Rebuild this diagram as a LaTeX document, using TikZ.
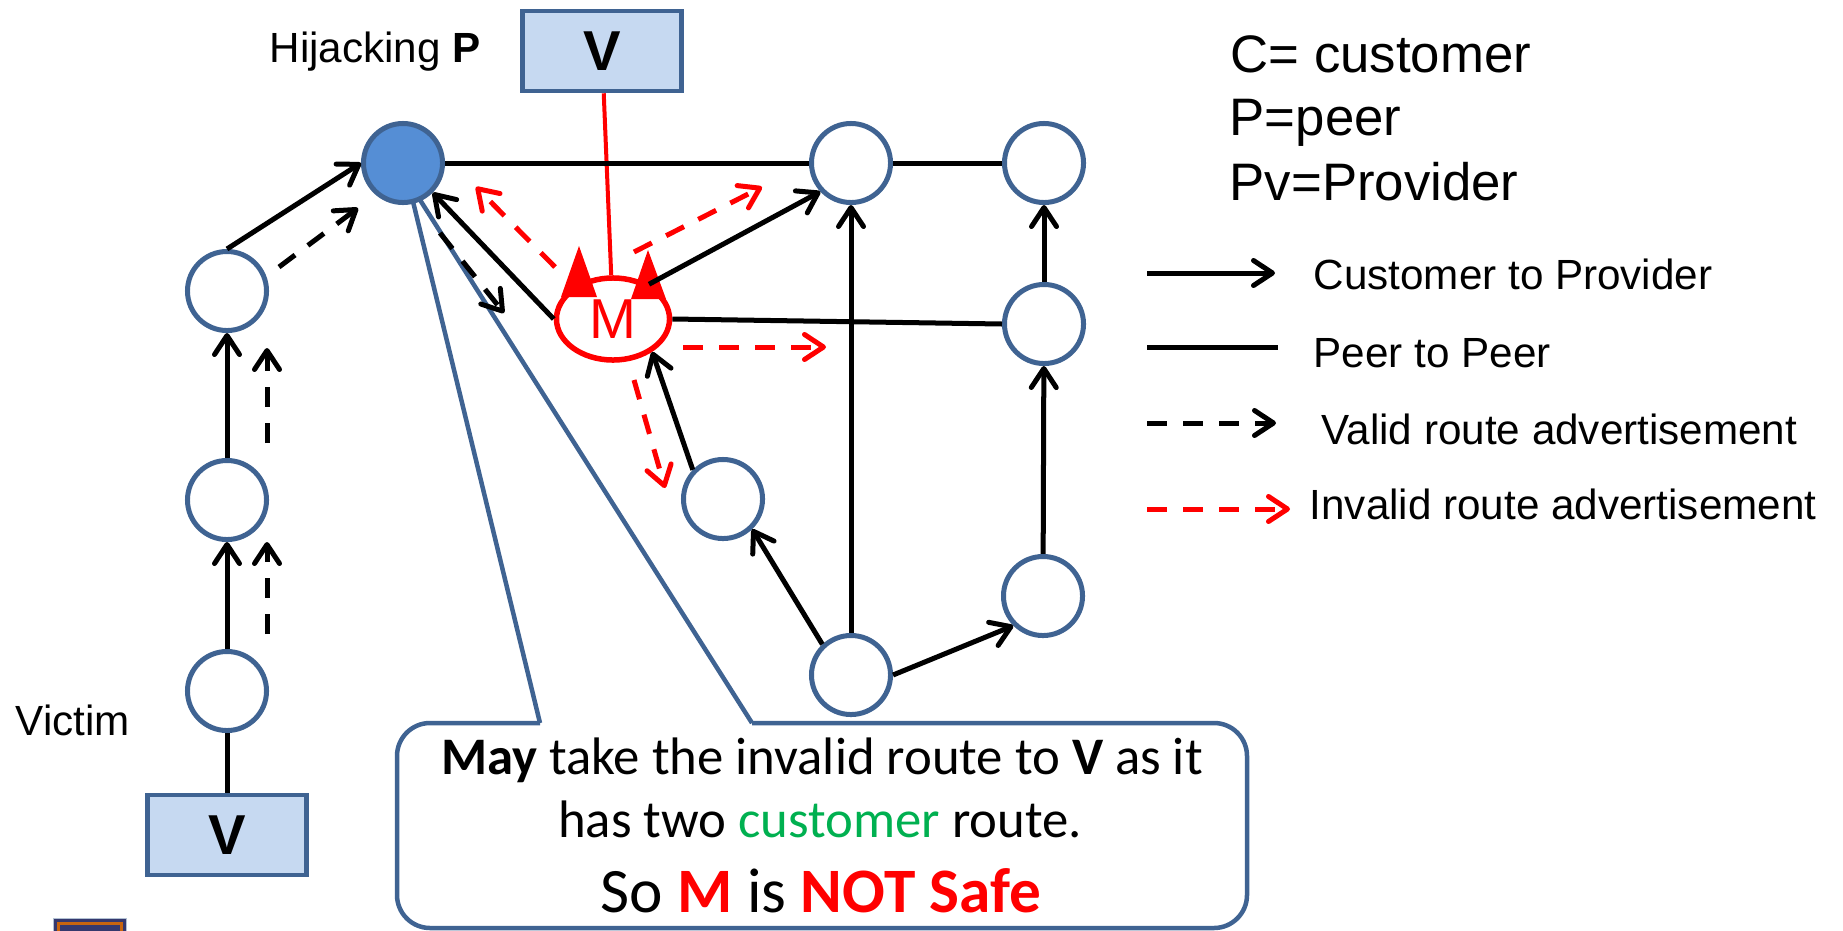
\documentclass[tikz,border=0pt]{standalone}
\usepackage{fontspec}
\setmainfont{Liberation Sans}
\newfontfamily\calibri{Carlito}
\usetikzlibrary{arrows.meta, calc, shapes.geometric}
\definecolor{asline}{HTML}{3F6392}
\definecolor{asfill}{HTML}{558ED5}
\definecolor{boxfill}{HTML}{C6D9F1}
\definecolor{custgreen}{HTML}{00B050}
\definecolor{iconnavy}{HTML}{35386E}
\definecolor{iconorange}{HTML}{C8640F}
\tikzset{as/.style = {circle, draw = asline, line width = 0.05cm, fill = white, minimum size = 0.79cm, inner sep = 0pt}}
\tikzset{vbox/.style = {rectangle, draw = asline, line width = 0.045cm, fill = boxfill, minimum width = 1.59cm, minimum height = 0.8cm, font = \fontsize{16}{18}\selectfont\bfseries}}
\tikzset{link/.style = {line width = 0.05cm}}
\tikzset{c2p/.style = {link, -{Straight Barb[length = 0.19cm, width = 0.25cm, round]}}}
\tikzset{valid/.style = {c2p, dash pattern = on 0.2cm off 0.16cm}}
\tikzset{invalid/.style = {valid, red}}
\tikzset{txt/.style = {inner sep = 0pt, anchor = base west, font = \fontsize{12}{14}\selectfont}}
\tikzset{key/.style = {txt, font = \fontsize{15}{18}\selectfont}}
\tikzset{note/.style = {inner sep = 0pt, anchor = base, font = \calibri\fontsize{15}{18}\selectfont}}
\tikzset{callout/.style = {draw = asline, line width = 0.045cm, line join = round}}

\begin{document}
\begin{tikzpicture}[x = 0.01cm, y = -0.01cm]
\useasboundingbox (0,0) rectangle (1843,930);
\fill [white] (540,723) -- (408,181) -- (752,723) -- cycle;
\fill [white, rounded corners = 0.33cm] (397,723) rectangle (1247,928);
\draw [callout] (540,723) -- (408,181) -- (752,723);
\draw [callout, rounded corners = 0.33cm] (752,723) -- (1247,723) -- (1247,928) -- (397,928) -- (397,723) -- (540,723);
\node [note] (note1) at (822,774) {\textbf{May} take the invalid route to \textbf{V} as it};
\node [note] (note2) at (820,837) {has two \textcolor{custgreen}{customer} route.};
\node [note, font = \calibri\fontsize{18}{21}\selectfont] (note3) at (821,912) {So \textcolor{red}{\textbf{M}} is \textcolor{red}{\textbf{NOT Safe}}};
\node [vbox] (vtop) at (602,51) {V};
\node [vbox] (vbot) at (227,835) {V};
\node [as, fill = asfill] (hij) at (403,163) {};
\node [as] (up2) at (227,291) {};
\node [as] (up1) at (227,500) {};
\node [as] (vic) at (227,691) {};
\node [as] (nb) at (851,163) {};
\node [as] (ne) at (1044,163) {};
\node [as] (re) at (1044,324) {};
\node [as] (rb) at (1043,596) {};
\node [as] (sb) at (723,499) {};
\node [as] (bot) at (851,675) {};
\node [ellipse, draw = red, line width = 0.055cm, fill = white, minimum width = 1.13cm, minimum height = 0.82cm, inner sep = 0pt, text = red, font = \fontsize{16}{18}\selectfont] (mal) at (613,319) {M};
\fill [red] ($(mal)+(-34,-73)$) -- ($(mal)+(-52,-22)$) -- ($(mal)+(-16,-22)$) -- cycle;
\fill [red] ($(mal)+(35,-69)$) -- ($(mal)+(18,-20)$) -- ($(mal)+(53,-20)$) -- cycle;
\node [txt] (hijlabel) at (269,62) {Hijacking \textbf{P}};
\node [txt] (viclabel) at (15,735) {Victim};
\draw [red, line width = 0.04cm] (vtop) -- (mal);
\draw [link] (vbot) -- (vic);
\draw [c2p] (vic) -- (up1);
\draw [c2p] (up1) -- (up2);
\draw [c2p] (up2.north) -- (hij.west);
\draw [valid] ($(vic)+(40,-57)$) -- ($(up1)+(40,42)$);
\draw [valid] ($(up1)+(40,-57)$) -- ($(up2)+(40,57)$);
\draw [valid] ($(up2)+(52,-24)$) -- ($(hij)+(-45,45)$);
\draw [link] (hij) -- (nb);
\draw [link] (nb) -- (ne);
\draw [c2p] (re) -- (ne);
\draw [c2p] (rb) -- (re);
\draw [c2p] (bot.east) -- (rb.south west);
\draw [c2p] (bot.133) -- (sb.-46);
\draw [c2p] (bot) -- (nb);
\draw [c2p] (sb.136) -- (mal.-40);
\draw [c2p] (mal.west) -- (hij.south east);
\draw [c2p] (mal.44) -- (nb.-137);
\draw [link] (mal.east) -- (re.west);
\draw [valid] ($(hij)+(37,70)$) -- ($(mal)+(-109,-6)$);
\draw [invalid] ($(mal)+(-58,-52)$) -- ($(hij)+(73,24)$);
\draw [invalid] ($(mal)+(21,-67)$) -- ($(nb)+(-89,24)$);
\draw [invalid] ($(mal)+(70,28)$) -- ($(mal)+(213,28)$);
\draw [invalid] ($(mal)+(21,61)$) -- ($(sb)+(-58,-11)$);
\node [key] (k1) at (1230,72) {C= customer};
\node [key] (k2) at (1229,135) {P=peer};
\node [key] (k3) at (1229,200) {Pv=Provider};
\node [txt] (lc2p) at (1313,289) {Customer to Provider};
\node [txt] (lp2p) at (1313,367) {Peer to Peer};
\node [txt] (lval) at (1321,444) {Valid route advertisement};
\node [txt] (linv) at (1309,519) {Invalid route advertisement};
\draw [c2p] ($(lc2p.base west)+(-166,-16)$) -- ($(lc2p.base west)+(-38,-16)$);
\draw [link] ($(lp2p.base west)+(-166,-20)$) -- ($(lp2p.base west)+(-35,-20)$);
\draw [valid] ($(lval.base west)+(-174,-21)$) -- ($(lval.base west)+(-45,-21)$);
\draw [invalid] ($(linv.base west)+(-162,-10)$) -- ($(linv.base west)+(-19,-10)$);
\fill [iconnavy, draw = asline!40, line width = 0.01cm] (53,918) rectangle (126,940);
\draw [iconorange, line width = 0.03cm] (58,923) rectangle (121,945);
\end{tikzpicture}
\end{document}
